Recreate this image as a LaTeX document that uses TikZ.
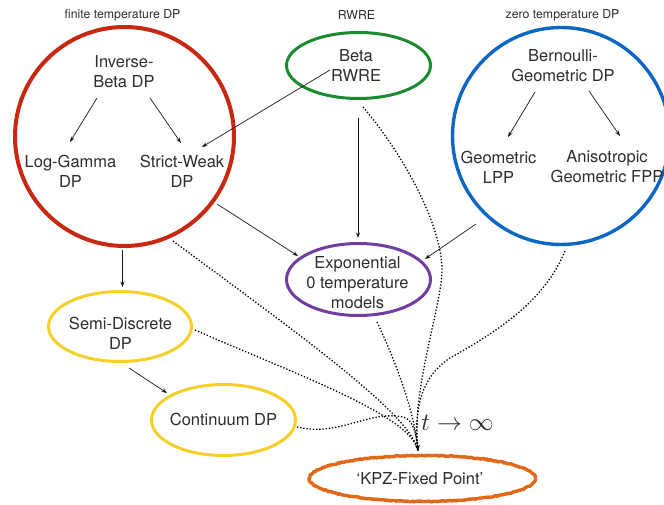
\documentclass[tikz,border=0pt]{standalone}
\usepackage{fontspec}
\setmainfont{TeX Gyre Heros}
\usetikzlibrary{shapes.geometric,arrows.meta,calc,decorations.pathmorphing}
\definecolor{cRed}{RGB}{200,40,18}
\definecolor{cGreen}{RGB}{28,138,48}
\definecolor{cBlue}{RGB}{12,102,196}
\definecolor{cPurple}{RGB}{112,62,160}
\definecolor{cYellow}{RGB}{246,208,40}
\definecolor{cOrange}{RGB}{226,104,24}
\definecolor{cText}{RGB}{45,45,45}
\begin{document}
\begin{tikzpicture}[x=1pt,y=-1pt,
  txt/.style={font=\fontsize{16.5}{20}\selectfont, text=cText, align=center, inner sep=0pt},
  grp/.style={font=\fontsize{12.3}{14}\selectfont, text=cText, inner sep=0pt},
  ring/.style={circle, draw, inner sep=0pt},
  oval/.style={ellipse, draw, inner sep=0pt, line width=3pt},
  arr/.style={draw=black!90, line width=0.7pt, -{Stealth[length=5.5pt,width=4pt]}},
  dots/.style={draw=black, line width=1.3pt, dash pattern=on 1.3pt off 1.9pt},
  dotarr/.style={dots, -{Stealth[length=6pt,width=5pt]}},
]
\pgfmathsetseed{7}
\path[use as bounding box] (0,0) rectangle (664,505);

% group labels
\node[grp] (gfin) at (122.5,15.5) {finite temperature DP};
\node[grp] (grw) at (356.5,15.5) {RWRE};
\node[grp] (gzero) at (562.5,15.5) {zero temperature DP};

% big circles and ellipses
\node[ring, draw=cRed, line width=4pt, minimum size=219pt] (red) at (124.5,136.5) {};
\node[ring, draw=cBlue, line width=3.4pt, minimum size=217pt] (blue) at (561,136) {};
\node[oval, draw=cGreen, minimum width=144pt, minimum height=66pt] (green) at (358.5,65.5) {};
\node[oval, draw=cPurple, minimum width=144pt, minimum height=72pt] (exp) at (358.5,279.5) {};
\node[oval, draw=cYellow, minimum width=143pt, minimum height=70pt] (sd) at (120,326.5) {};
\node[oval, draw=cYellow, minimum width=144pt, minimum height=71pt] (cd) at (223.5,420) {};
\node[ellipse, draw=cOrange, line width=3.4pt, inner sep=0pt, minimum width=226pt, minimum height=46pt,
      decorate, decoration={random steps, segment length=1.6pt, amplitude=0.45pt}] (kpz) at (422.5,478.5) {};

% texts
\node[txt] (ib) at (124,71.5) {Inverse-\\Beta DP};
\node[txt] (lg) at (70.5,171) {Log-Gamma\\DP};
\node[txt] (sw) at (182,171) {Strict-Weak\\DP};
\node[txt] (beta) at (356,65.5) {Beta\\RWRE};
\node[txt] (bg) at (563,65.5) {Bernoulli-\\Geometric DP};
\node[txt] (gl) at (498.5,167) {Geometric\\LPP};
\node[txt] (an) at (607,167) {Anisotropic\\Geometric FPP};
\node[txt] (expt) at (357.5,283) {Exponential\\0 temperature\\models};
\node[txt] (sdt) at (120.5,333) {Semi-Discrete\\DP};
\node[txt] (cdt) at (223.5,419) {Continuum DP};
\node[txt] (kpzt) at (420,479) {‘KPZ-Fixed Point’};
\node[font=\fontsize{24}{26}\selectfont, text=cText, inner sep=0pt] (lim) at (457.5,423) {$t\to\infty$};

% solid arrows
\draw[arr] ($(ib)+(-27,26.5)$) -- ($(lg)+(-0.5,-29)$);
\draw[arr] ($(ib)+(26,26.5)$) -- ($(sw)+(-1,-28)$);
\draw[arr] ($(green)+(-28.5,4.5)$) -- ($(sw)+(20,-24)$);
\draw[arr] ($(green)+(-0.5,52.5)$) -- ($(exp)+(-0.5,-41.5)$);
\draw[arr] ($(red)+(92.5,67.5)$) -- ($(exp)+(-60.5,-23.5)$);
\draw[arr] ($(blue)+(-85,88)$) -- ($(exp)+(66.5,-20.5)$);
\draw[arr] ($(bg)+(-28,26.5)$) -- ($(gl)+(9.5,-30)$);
\draw[arr] ($(bg)+(26,25.5)$) -- ($(an)+(13,-31)$);
\draw[arr] ($(red)+(-2,113.5)$) -- ($(sd)+(2.5,-39.5)$);
\draw[arr] ($(sd)+(9,41.5)$) -- ($(cd)+(-56.5,-27)$);

% dotted limits
\draw[dots] ($(red)+(48.5,104.5)$) .. controls (300,335) and (412,415) .. ($(kpz)+(-4.5,-27.5)$);
\draw[dots] ($(sd)+(75,3.5)$) .. controls (300,376) and (412,416) .. ($(kpz)+(-4.5,-27.5)$);
\draw[dots] ($(cd)+(73.5,7)$) .. controls (340,437) and (368,410) .. (403,417)
            .. controls (412,419) and (416,430) .. ($(kpz)+(-4.5,-27.5)$);
\draw[dots] ($(green)+(4.5,41.5)$) .. controls (403,154) and (442,225) .. (442,270)
            .. controls (442,305) and (410,395) .. ($(kpz)+(-4.5,-27.5)$);
\draw[dots] ($(blue)+(4,115)$) .. controls (545,300) and (500,330) .. (450,358)
            .. controls (420,378) and (414,410) .. ($(kpz)+(-4.5,-27.5)$);
\draw[dotarr] ($(exp)+(18.5,42.5)$) .. controls (395,360) and (414,410) .. ($(kpz)+(-4.5,-27.5)$);
\end{tikzpicture}
\end{document}
